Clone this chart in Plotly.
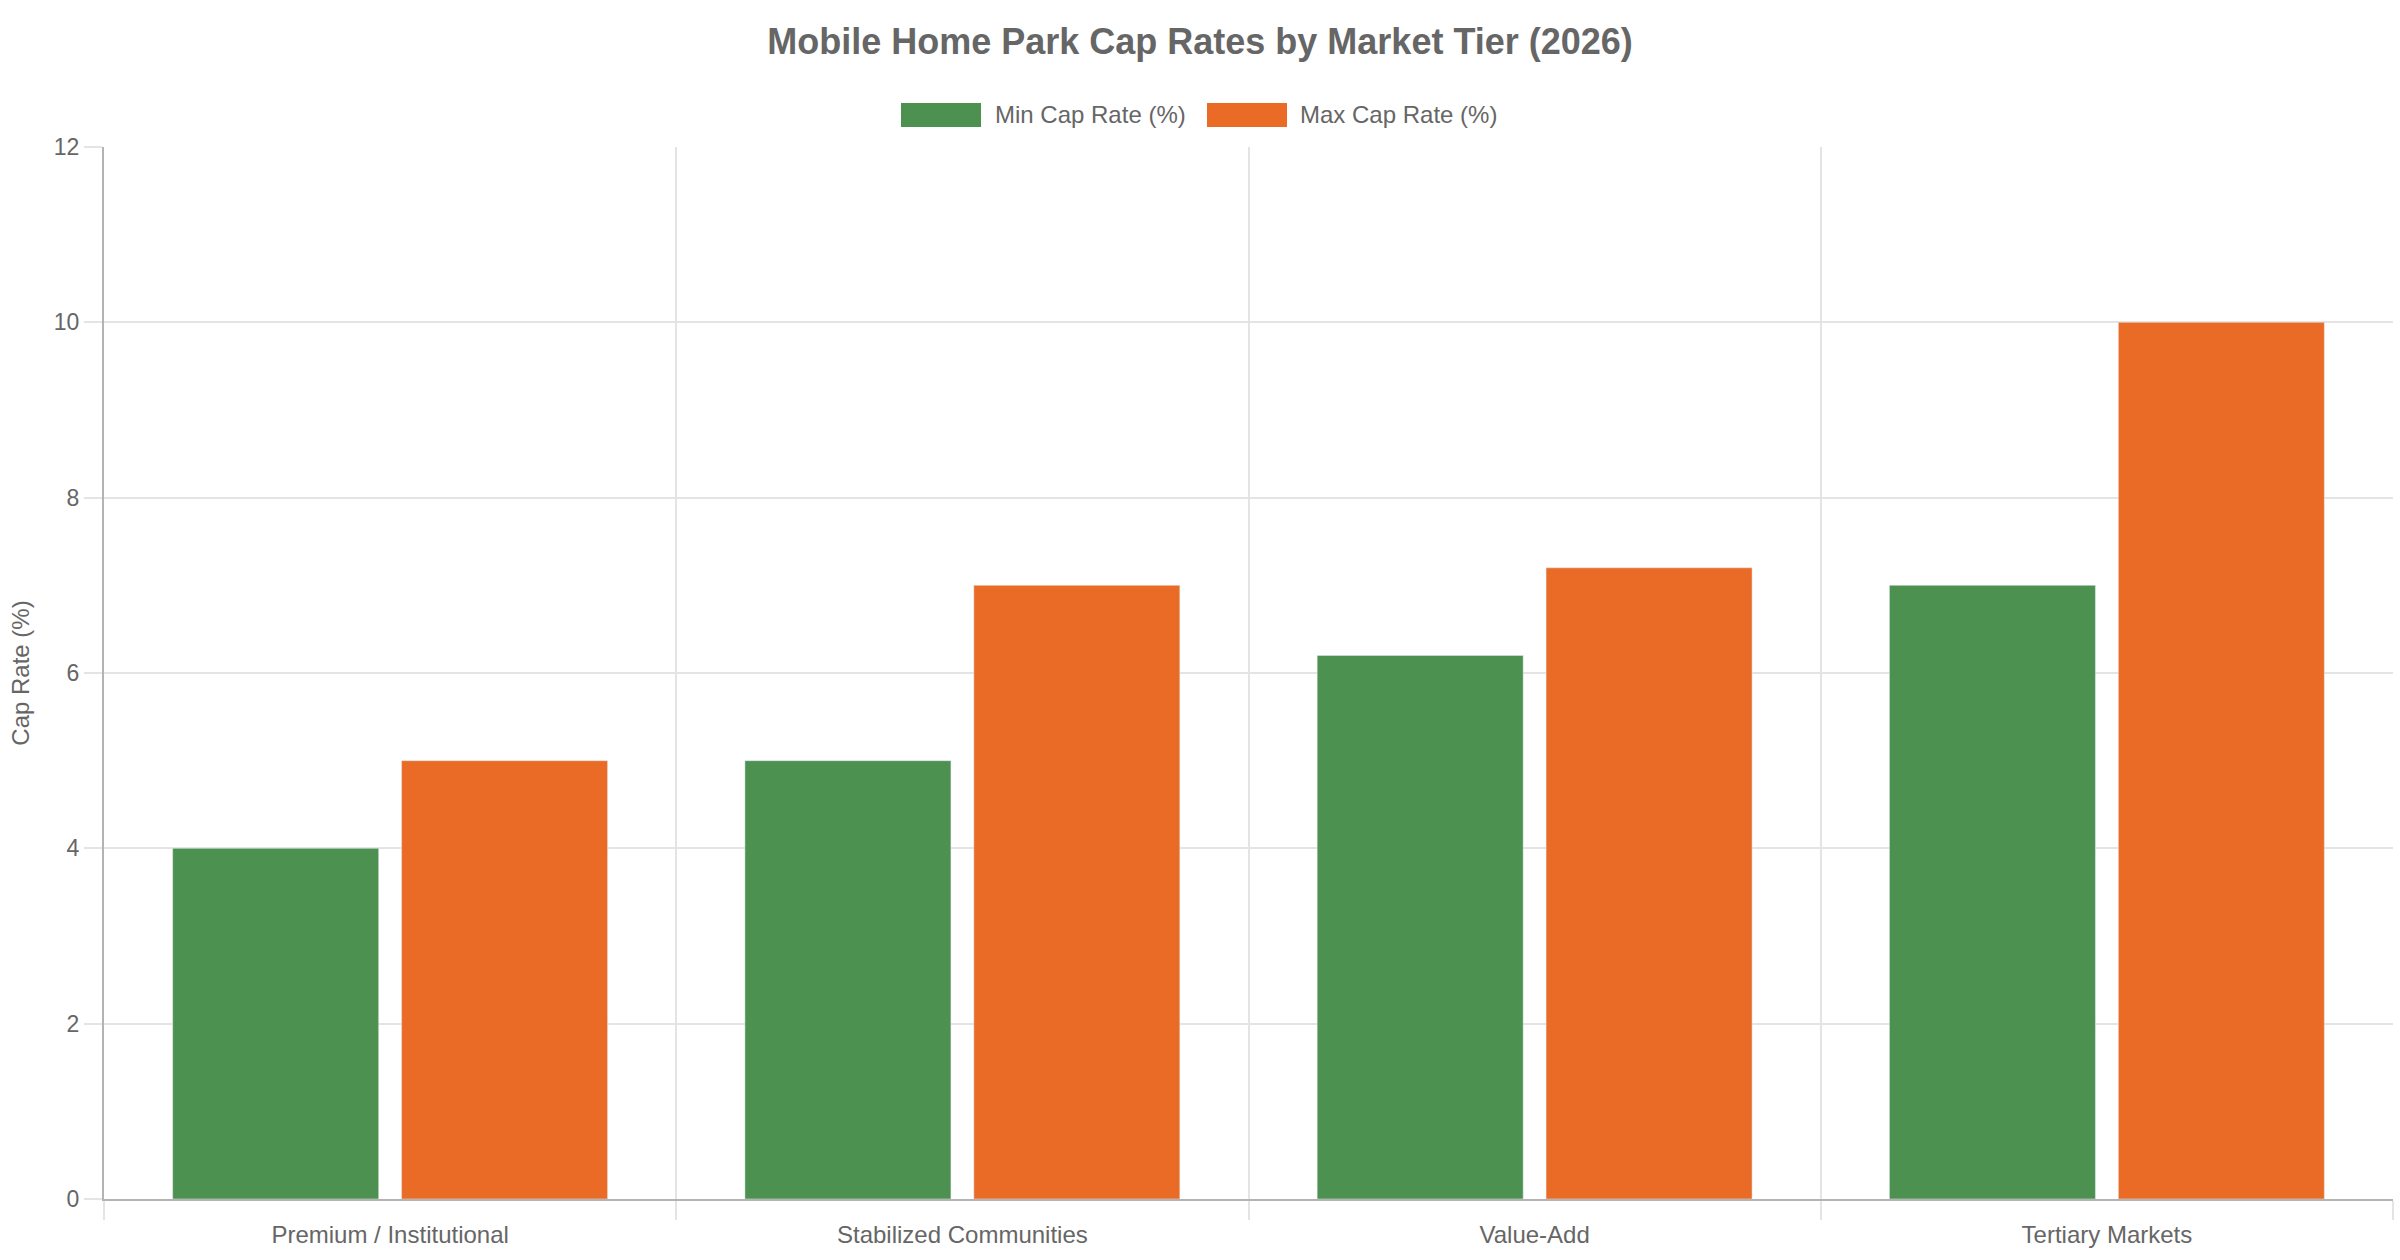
import plotly.graph_objects as go

categories = ["Premium / Institutional", "Stabilized Communities", "Value-Add", "Tertiary Markets"]
min_cap = [4.0, 5.0, 6.2, 7.0]
max_cap = [5.0, 7.0, 7.2, 10.0]
series_names = ["Min Cap Rate (%)", "Max Cap Rate (%)"]
series_colors = ["#4d9151", "#ea6b26"]

W, H = 2400, 1260
ML, MR, MT, MB = 104, 7, 147, 61
PW, PH = W - ML - MR, H - MT - MB

TXT = "#666666"
FONT = "Liberation Sans, Arial, Helvetica, sans-serif"

fig = go.Figure()
fig.add_trace(go.Bar(x=categories, y=min_cap, name=series_names[0], marker_color=series_colors[0]))
fig.add_trace(go.Bar(x=categories, y=max_cap, name=series_names[1], marker_color=series_colors[1]))

def px_x(px):
    return (px - ML) / PW

def px_y(py):
    return (H - MB - py) / PH

# custom legend (Chart.js-like wide swatches)
legend_items = [(901, 993), (1207, 1298)]
shapes = []
annotations = []
for (sx, tx), name, col in zip(legend_items, series_names, series_colors):
    shapes.append(dict(type="rect", xref="paper", yref="paper",
                       x0=px_x(sx), x1=px_x(sx + 80), y0=px_y(127), y1=px_y(103),
                       fillcolor=col, line=dict(width=0)))
    annotations.append(dict(text=name, xref="paper", yref="paper", x=px_x(tx), y=px_y(115),
                            xanchor="left", yanchor="middle", showarrow=False,
                            font=dict(size=24, color=TXT, family=FONT)))

fig.update_layout(
    width=W, height=H,
    margin=dict(l=ML, r=MR, t=MT, b=MB),
    paper_bgcolor="white", plot_bgcolor="white",
    font=dict(family=FONT, color=TXT, size=24),
    title=dict(text="<b>Mobile Home Park Cap Rates by Market Tier (2026)</b>",
               x=0.5, xref="container", xanchor="center",
               y=1 - 41 / H, yref="container", yanchor="middle",
               font=dict(size=36, color=TXT, family=FONT)),
    showlegend=False,
    barmode="group", bargap=0.2, bargroupgap=0.1,
    shapes=shapes, annotations=annotations,
    xaxis=dict(
        tickson="boundaries", showgrid=True, gridcolor="#e4e4e4", gridwidth=2,
        ticks="outside", ticklen=19, tickcolor="#e4e4e4", tickwidth=2,
        showline=True, linecolor="#b3b3b3", linewidth=2,
        tickfont=dict(size=24, color=TXT), mirror=False,
        ticklabelstandoff=13,
    ),
    yaxis=dict(
        range=[0, 12], dtick=2, showgrid=True, gridcolor="#e4e4e4", gridwidth=2,
        ticks="outside", ticklen=18, tickcolor="#e4e4e4", tickwidth=2,
        showline=True, linecolor="#b3b3b3", linewidth=2, zeroline=False,
        tickfont=dict(size=23, color=TXT),
        title=dict(text="Cap Rate (%)", font=dict(size=24, color=TXT), standoff=17),
    ),
)

fig.write_html("out.html")
